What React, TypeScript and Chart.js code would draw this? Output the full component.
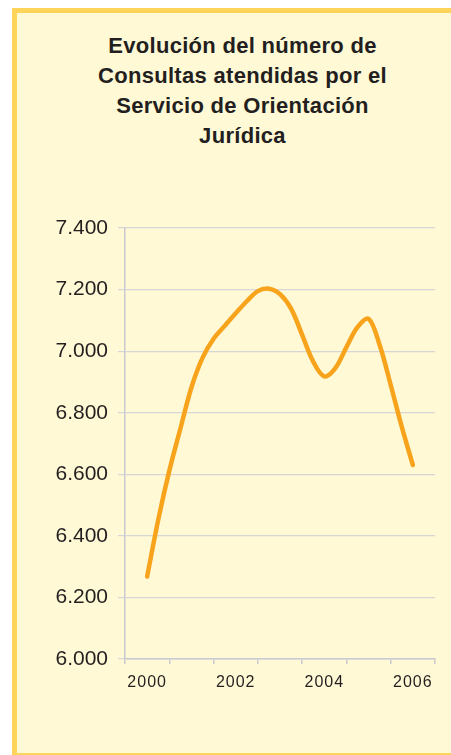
import { useEffect, useRef } from 'react';
import { Chart, registerables } from 'chart.js';

Chart.register(...registerables);

const titleLines = [
  'Evolución del número de',
  'Consultas atendidas por el',
  'Servicio de Orientación',
  'Jurídica',
];

const years = ['2000', '2001', '2002', '2003', '2004', '2005', '2006'];

const periods = [
  2000, 2000.25, 2000.5, 2000.75,
  2001, 2001.25, 2001.5, 2001.75,
  2002, 2002.25, 2002.5, 2002.75,
  2003, 2003.25, 2003.5, 2003.75,
  2004, 2004.25, 2004.5, 2004.75,
  2005, 2005.25, 2005.5, 2005.75,
  2006,
];

const consultas = [
  6268, 6452, 6611, 6748,
  6882, 6978, 7040, 7082,
  7123, 7162, 7195, 7203,
  7185, 7138, 7053, 6966,
  6918, 6945, 7013, 7078,
  7105, 7020, 6890, 6754,
  6630,
];

const yMin = 6000;
const yMax = 7400;
const yStep = 200;

const fmt = (v: number) => {
  const s = Math.round(v).toString();
  return s.replace(/\B(?=(\d{3})+(?!\d))/g, '.');
};

const xLabelSpacing = {
  id: 'xLabelSpacing',
  beforeDraw(chart: any) {
    const s = chart.scales.x;
    if (s && !s.__spaced) {
      const orig = s.drawLabels;
      s.drawLabels = function (area: any) {
        const ctx = this.ctx;
        ctx.save();
        try {
          (ctx as any).letterSpacing = '1px';
        } catch (e) {}
        orig.call(this, area);
        ctx.restore();
      };
      s.__spaced = true;
    }
  },
};

export default function App() {
  const ref = useRef<HTMLCanvasElement | null>(null);

  useEffect(() => {
    document.documentElement.style.overflow = 'hidden';
    document.body.style.overflow = 'hidden';
    if (!ref.current) return;
    const chart = new Chart(ref.current, {
      type: 'line',
      data: {
        labels: years,
        datasets: [
          {
            label: 'Consultas',
            xAxisID: 'x2',
            yAxisID: 'y',
            data: periods.map((p, i) => ({ x: p, y: consultas[i] })),
            borderColor: '#F7A31C',
            borderWidth: 4.5,
            pointRadius: 0,
            tension: 0.35,
            borderCapStyle: 'round',
            borderJoinStyle: 'round',
            fill: false,
          },
        ],
      },
      plugins: [xLabelSpacing],
      options: {
        animation: false,
        responsive: true,
        maintainAspectRatio: false,
        layout: { padding: { top: 68, right: 16, bottom: 51, left: 0 } },
        plugins: {
          legend: { display: false },
          title: { display: false },
          tooltip: { enabled: false },
        },
        scales: {
          x: {
            type: 'category',
            position: 'bottom',
            offset: true,
            grid: {
              offset: true,
              drawOnChartArea: false,
              drawTicks: true,
              tickLength: 5,
              color: '#C9C9D1',
              lineWidth: 1.5,
            },
            border: { color: '#C9C9D1', width: 1.5 },
            ticks: {
              autoSkip: false,
              maxRotation: 0,
              padding: 9,
              color: '#231F20',
              font: { family: 'Liberation Sans, Arial, sans-serif', size: 16 },
              callback: (_v: any, i: number) => (i % 2 === 0 ? years[i] : ''),
            },
            afterFit: (s: any) => {
              s.height = 40;
            },
          },
          x2: {
            type: 'linear',
            display: false,
            min: 1999.5,
            max: 2006.5,
          },
          y: {
            min: yMin,
            max: yMax,
            ticks: {
              stepSize: yStep,
              padding: 10,
              color: '#231F20',
              font: { family: 'Liberation Sans, Arial, sans-serif', size: 21 },
              callback: (v: any) => fmt(Number(v)),
            },
            grid: { color: '#D6D6D6', lineWidth: 1.2, tickLength: 7 },
            border: { color: '#C9C9D1', width: 1.5 },
            afterFit: (s: any) => {
              s.width = 108;
            },
          },
        },
      },
    });
    return () => chart.destroy();
  }, []);

  return (
    <div
      style={{
        position: 'fixed',
        left: 12,
        top: 8,
        width: 439,
        height: 747,
        boxSizing: 'border-box',
        background: '#FFF9D5',
        borderTop: '5px solid #FFD45A',
        borderLeft: '5px solid #FFD45A',
        borderBottom: '2px solid #FFD45A',
        overflow: 'hidden',
      }}
    >
      <div
        style={{
          position: 'absolute',
          left: 17,
          top: 17.7,
          width: 417,
          textAlign: 'center',
          fontFamily: 'Liberation Sans, Arial, sans-serif',
          fontWeight: 'bold',
          fontSize: 22,
          lineHeight: '30px',
          letterSpacing: '0.3px',
          color: '#231F20',
        }}
      >
        {titleLines.map((l, i) => (
          <div key={i}>{l}</div>
        ))}
      </div>
      <div style={{ position: 'absolute', left: 0, top: 147, width: 434, height: 590 }}>
        <canvas ref={ref} />
      </div>
    </div>
  );
}
